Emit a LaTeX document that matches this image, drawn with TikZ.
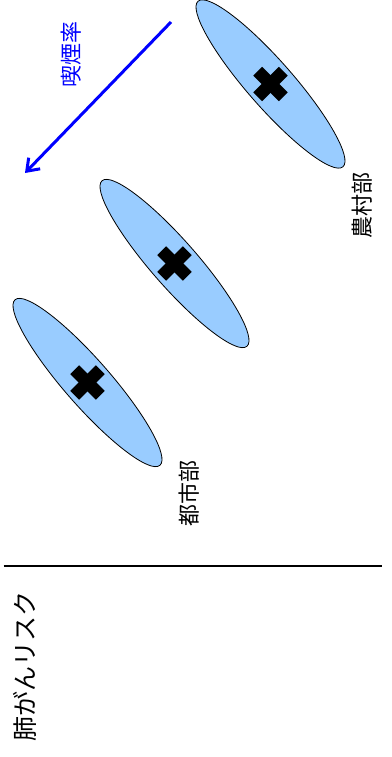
\documentclass[tikz,border=0pt]{standalone}
\usepackage{fontspec}
\newfontfamily\jpfont{Noto Sans CJK JP}
\usetikzlibrary{shapes.geometric,arrows.meta,calc}
\definecolor{blobblue}{HTML}{99CCFF}
\definecolor{arrowblue}{HTML}{0000FF}
\tikzset{
  blob/.style={ellipse, draw=black, line width=0.8pt, fill=blobblue, inner sep=0pt,
    minimum width=220pt, minimum height=46pt, rotate=-48.8},
  crossbar/.style={line width=12.5pt, line cap=butt, draw=black},
  label/.style={font=\jpfont\fontsize{22pt}{22pt}\selectfont, rotate=90, inner sep=0pt},
  biglabel/.style={font=\jpfont\fontsize{25pt}{25pt}\selectfont, rotate=90, inner sep=0pt},
  bluearrow/.style={draw=arrowblue, line width=3pt,
    -{Straight Barb[length=11pt,width=16pt]}},
  divider/.style={draw=black, line width=2.3pt}
}
\begin{document}
\begin{tikzpicture}[x=1pt,y=-1pt]
  \useasboundingbox (0,0) rectangle (391,757);
  % ellipses
  \node[blob] (e1) at (87.5,382.5) {};
  \node[blob] (e2) at (174.5,263.5) {};
  \node[blob] (e3) at (270.5,84) {};
  % crosses
  \foreach \c in {e1,e2,e3}{
    \draw[crossbar] ($(\c.center)+(-12.8,-12.8)$) -- ($(\c.center)+(12.8,12.8)$);
    \draw[crossbar] ($(\c.center)+(-12.8,12.8)$) -- ($(\c.center)+(12.8,-12.8)$);
  }
  % arrow
  \coordinate (a0) at (171,22);
  \coordinate (a1) at (25,173);
  \draw[bluearrow] (a0) -- (a1);
  \node[label, text=arrowblue] (smoke) at (70.7,54.3) {喫煙率};
  % labels
  \node[label] (urban) at (189.5,493.5) {都市部};
  \node[label] (rural) at (362,205.5) {農村部};
  % divider
  \coordinate (l0) at (3.5,566);
  \coordinate (l1) at (381.7,566);
  \draw[divider] (l0) -- (l1);
  \node[biglabel] (risk) at (25,666) {肺がんリスク};
\end{tikzpicture}
\end{document}
